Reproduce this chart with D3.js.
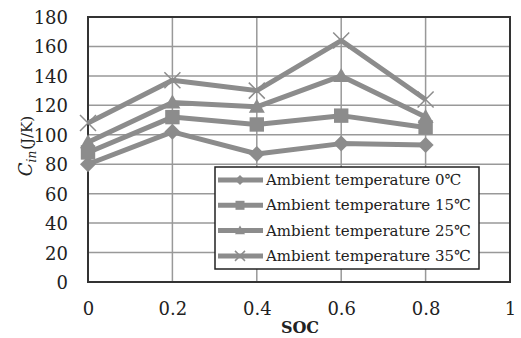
<!DOCTYPE html>
<html>
<head>
<meta charset="utf-8">
<script src="https://cdn.jsdelivr.net/npm/d3@7"></script>
<style>
  body { margin: 0; background: #fff; }
  svg { display: block; }
  text { font-family: "DejaVu Serif", "Liberation Serif", serif; fill: #222; }
</style>
</head>
<body>
<div id="chart"></div>
<script>
// Data
const soc = [0, 0.2, 0.4, 0.6, 0.8];
const temp0 = [80, 102, 87, 94, 93];
const temp15 = [88, 112, 107, 113, 105];
const temp25 = [95, 122, 119, 140, 112];
const temp35 = [108, 137, 130, 164, 124];
const seriesNames = ['Ambient temperature 0\u2103', 'Ambient temperature 15\u2103',
    'Ambient temperature 25\u2103', 'Ambient temperature 35\u2103'];
const markers = ['diamond', 'square', 'triangle', 'cross'];
const xTicks = [0, 0.2, 0.4, 0.6, 0.8, 1];
const yTicks = [0, 20, 40, 60, 80, 100, 120, 140, 160, 180];

const width = 521, height = 338;
const margin = { top: 17, right: 11, bottom: 56, left: 88 };

const svg = d3.select('#chart').append('svg')
    .attr('width', width)
    .attr('height', height);

const x = d3.scaleLinear().domain([0, 1]).range([margin.left, width - margin.right]);
const y = d3.scaleLinear().domain([0, 180]).range([height - margin.bottom, margin.top]);

// Grid lines
svg.append('g')
    .selectAll('line')
    .data(yTicks)
    .join('line')
    .attr('x1', x(0)).attr('x2', x(1))
    .attr('y1', d => y(d)).attr('y2', d => y(d))
    .attr('stroke', '#999').attr('stroke-width', 1.5);

svg.append('g')
    .selectAll('line')
    .data(xTicks)
    .join('line')
    .attr('x1', d => x(d)).attr('x2', d => x(d))
    .attr('y1', y(0)).attr('y2', y(180))
    .attr('stroke', '#999').attr('stroke-width', 1.5);

// Plot frame
svg.append('rect')
    .attr('x', x(0)).attr('y', y(180))
    .attr('width', x(1) - x(0)).attr('height', y(0) - y(180))
    .attr('fill', 'none').attr('stroke', '#333').attr('stroke-width', 2);

// Axes
const yAxis = svg.append('g')
    .attr('transform', `translate(${x(0)},0)`)
    .call(d3.axisLeft(y).tickValues(yTicks).tickSize(0).tickPadding(20));
yAxis.select('.domain').remove();
yAxis.selectAll('text').style('font-size', '18px').attr('fill', '#222')
    .style('font-family', '"DejaVu Serif", serif').attr('dy', '0.36em');

const xAxis = svg.append('g')
    .attr('transform', `translate(0,${y(0)})`)
    .call(d3.axisBottom(x).tickValues(xTicks).tickFormat(d3.format('~g')).tickSize(0).tickPadding(20));
xAxis.select('.domain').remove();
xAxis.selectAll('text').style('font-size', '18px').attr('fill', '#222')
    .style('font-family', '"DejaVu Serif", serif');

// Axis titles
svg.append('text')
    .attr('x', 300)
    .attr('y', 333)
    .attr('text-anchor', 'middle')
    .style('font-size', '16px')
    .style('font-weight', 'bold')
    .text('SOC');

const yt = svg.append('text')
    .attr('transform', 'translate(32,146) rotate(-90)')
    .attr('text-anchor', 'middle')
    .style('font-size', '15px');
yt.append('tspan').style('font-style', 'italic').style('font-size', '18px').text('C');
yt.append('tspan').style('font-style', 'italic').style('font-size', '12px').attr('dy', 4).text('in');
yt.append('tspan').attr('dy', -4).attr('dx', 1).text('(J/K)');

// Marker drawing
const lineColor = '#8c8c8c';
function drawMarker(g, type, cx, cy, s) {
    if (type === 'diamond') {
        g.append('path')
            .attr('d', `M${cx},${cy - s}L${cx + s},${cy}L${cx},${cy + s}L${cx - s},${cy}Z`)
            .attr('fill', lineColor);
    } else if (type === 'square') {
        g.append('rect')
            .attr('x', cx - s * 0.9).attr('y', cy - s * 0.9)
            .attr('width', s * 1.8).attr('height', s * 1.8)
            .attr('fill', lineColor);
    } else if (type === 'triangle') {
        g.append('path')
            .attr('d', `M${cx},${cy - s}L${cx + s},${cy + s * 0.75}L${cx - s},${cy + s * 0.75}Z`)
            .attr('fill', lineColor);
    } else {
        g.append('path')
            .attr('d', `M${cx - s},${cy - s}L${cx + s},${cy + s}M${cx - s},${cy + s}L${cx + s},${cy - s}`)
            .attr('stroke', lineColor).attr('stroke-width', 1.5).attr('fill', 'none');
    }
}

const allSeries = [temp0, temp15, temp25, temp35];
const line = d3.line().x((d, i) => x(soc[i])).y(d => y(d));

allSeries.forEach((vals, k) => {
    const g = svg.append('g');
    g.append('path')
        .datum(vals)
        .attr('d', line)
        .attr('fill', 'none')
        .attr('stroke', lineColor)
        .attr('stroke-width', 5)
        .attr('stroke-linejoin', 'round');
    vals.forEach((v, i) => drawMarker(g, markers[k], x(soc[i]), y(v), 8));
});

// Legend
const legend = svg.append('g');
legend.append('rect')
    .attr('x', 215).attr('y', 167)
    .attr('width', 264).attr('height', 102)
    .attr('fill', '#fff').attr('stroke', '#222').attr('stroke-width', 1.5);

seriesNames.forEach((name, k) => {
    const ly = 180 + k * 25.3;
    legend.append('line')
        .attr('x1', 218).attr('x2', 263)
        .attr('y1', ly).attr('y2', ly)
        .attr('stroke', lineColor).attr('stroke-width', 5);
    drawMarker(legend, markers[k], 240, ly, 5);
    legend.append('text')
        .attr('x', 266).attr('y', ly + 5)
        .style('font-size', '15px')
        .text(name);
});
</script>
</body>
</html>
